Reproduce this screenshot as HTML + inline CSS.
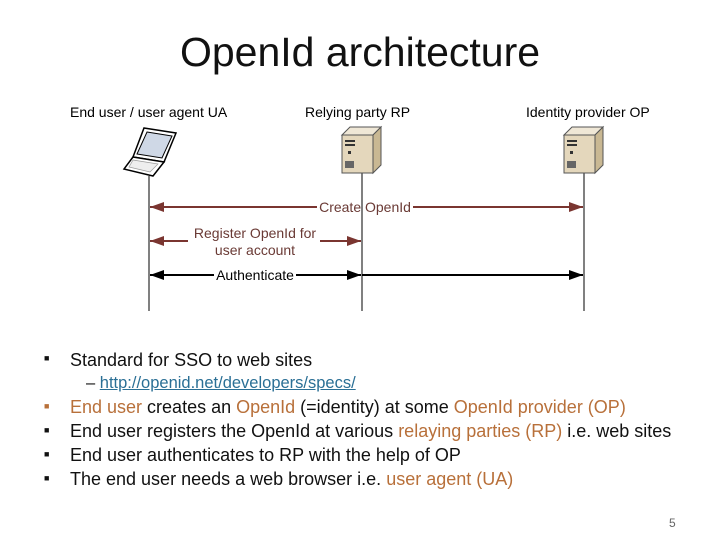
<!DOCTYPE html>
<html><head><meta charset="utf-8"><style>
body{margin:0;width:720px;height:540px;background:#fff;position:relative;overflow:hidden;font-family:"Liberation Sans",sans-serif}
.t{position:absolute;white-space:nowrap}
.o{color:#b8703a}
</style></head><body>
<div class="t" style="left:0;width:720px;text-align:center;top:29px;font-size:41px;color:#111">OpenId architecture</div>
<svg width="720" height="540" style="position:absolute;left:0;top:0">
<defs>
<marker id="r" markerWidth="14" markerHeight="10" refX="14" refY="5" orient="auto-start-reverse" markerUnits="userSpaceOnUse"><path d="M0,0 L14,5 L0,10 Z" fill="#7a3530"/></marker>
<marker id="b" markerWidth="14" markerHeight="10" refX="14" refY="5" orient="auto-start-reverse" markerUnits="userSpaceOnUse"><path d="M0,0 L14,5 L0,10 Z" fill="#000"/></marker>
</defs>
<g font-size="14" font-family="Liberation Sans,sans-serif">
<text x="70" y="117">End user / user agent UA</text>
<text x="305" y="117">Relying party RP</text>
<text x="526" y="117">Identity provider OP</text>
</g>
<line x1="149" y1="176" x2="149" y2="311" stroke="#000" stroke-width="1"/>
<line x1="362" y1="173" x2="362" y2="311" stroke="#000" stroke-width="1"/>
<line x1="584" y1="173" x2="584" y2="311" stroke="#000" stroke-width="1"/>
<!-- laptop -->
<g stroke="#000" stroke-width="1.5" fill="#fff">
<path d="M144,128 L176,133 L164,162 L133,157 Z"/>
<path d="M147,132 L172,136 L162,158 L137,154 Z" fill="#cfd8e6" stroke-width="1"/>
<path d="M133,157 L164,162 L153,176 L124,169 Z"/>
<path d="M133,160 L158,164 L150,172 L129,167 Z" fill="#eee" stroke="#999" stroke-width="0.7"/>
</g>
<!-- servers -->
<g>
<path d="M342,135 L350,127 L381,127 L373,135 Z" fill="#efe7d6" stroke="#555"/>
<path d="M373,135 L381,127 L381,165 L373,173 Z" fill="#c9b893" stroke="#555"/>
<rect x="342" y="135" width="31" height="38" fill="#e4d7bc" stroke="#555"/>
<rect x="345" y="140" width="10" height="2" fill="#333"/><rect x="345" y="144" width="10" height="2" fill="#333"/>
<rect x="348" y="151" width="3" height="3" fill="#333"/>
<rect x="345" y="161" width="9" height="7" fill="#666"/>
<path d="M564,135 L572,127 L603,127 L595,135 Z" fill="#efe7d6" stroke="#555"/>
<path d="M595,135 L603,127 L603,165 L595,173 Z" fill="#c9b893" stroke="#555"/>
<rect x="564" y="135" width="31" height="38" fill="#e4d7bc" stroke="#555"/>
<rect x="567" y="140" width="10" height="2" fill="#333"/><rect x="567" y="144" width="10" height="2" fill="#333"/>
<rect x="570" y="151" width="3" height="3" fill="#333"/>
<rect x="567" y="161" width="9" height="7" fill="#666"/>
</g>
<line x1="150" y1="207" x2="317" y2="207" stroke="#7a3530" stroke-width="2" marker-start="url(#r)"/>
<line x1="413" y1="207" x2="583" y2="207" stroke="#7a3530" stroke-width="2" marker-end="url(#r)"/>
<text x="365" y="212" font-size="14" text-anchor="middle" fill="#6a3a35">Create OpenId</text>
<line x1="150" y1="241" x2="188" y2="241" stroke="#7a3530" stroke-width="2" marker-start="url(#r)"/>
<line x1="320" y1="241" x2="361" y2="241" stroke="#7a3530" stroke-width="2" marker-end="url(#r)"/>
<text x="255" y="238" font-size="14" text-anchor="middle" fill="#6a3a35">Register OpenId for</text>
<text x="255" y="255" font-size="14" text-anchor="middle" fill="#6a3a35">user account</text>
<line x1="150" y1="275" x2="214" y2="275" stroke="#000" stroke-width="2" marker-start="url(#b)"/>
<line x1="296" y1="275" x2="361" y2="275" stroke="#000" stroke-width="2" marker-end="url(#b)"/>
<line x1="362" y1="275" x2="583" y2="275" stroke="#000" stroke-width="2" marker-end="url(#b)"/>
<text x="255" y="280" font-size="14" text-anchor="middle">Authenticate</text>
</svg>
<div style="position:absolute;left:0;top:0;font-size:18px;color:#111">
<div class="t" style="left:44px;top:353px;font-size:9px">&#9632;</div>
<div class="t" style="left:70px;top:350px">Standard for SSO to web sites</div>
<div class="t" style="left:86px;top:374px;font-size:16.5px">– <span style="color:#2a6f95;text-decoration:underline">http://openid.net/developers/specs/</span></div>
<div class="t o" style="left:44px;top:401px;font-size:9px">&#9632;</div>
<div class="t" style="left:70px;top:397px"><span class="o">End user</span> creates an <span class="o">OpenId</span> (=identity) at some <span class="o">OpenId provider (OP)</span></div>
<div class="t" style="left:44px;top:425px;font-size:9px">&#9632;</div>
<div class="t" style="left:70px;top:421px">End user registers the OpenId at various <span class="o">relaying parties (RP)</span> i.e. web sites</div>
<div class="t" style="left:44px;top:449px;font-size:9px">&#9632;</div>
<div class="t" style="left:70px;top:445px">End user authenticates to RP with the help of OP</div>
<div class="t" style="left:44px;top:473px;font-size:9px">&#9632;</div>
<div class="t" style="left:70px;top:469px">The end user needs a web browser i.e. <span class="o">user agent (UA)</span></div>
<div class="t" style="left:669px;top:516px;font-size:12px;color:#666">5</div>
</div>
</body></html>
